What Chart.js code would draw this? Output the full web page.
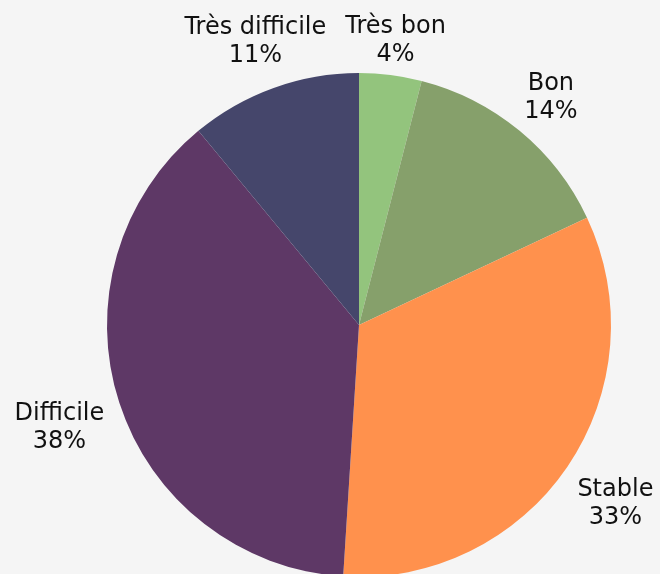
<!DOCTYPE html>
<html>
<head>
<meta charset="utf-8">
<script src="https://cdn.jsdelivr.net/npm/chart.js@4.4.1/dist/chart.umd.min.js"></script>
<style>
  html, body { margin: 0; padding: 0; background: #f5f5f5; overflow: hidden; }
  #wrap { width: 660px; height: 574px; overflow: hidden; }
  canvas { display: block; }
</style>
</head>
<body>
<div id="wrap"><canvas id="pieChart" width="660" height="650"></canvas></div>
<script>
// categories and shares (%)
const categories = ["Très bon", "Bon", "Stable", "Difficile", "Très difficile"];
const shares = [4, 14, 33, 38, 11];
const sliceColors = ["#93c47d", "#86a06b", "#ff914d", "#5e3866", "#45466b"];

const labelFont = "24px 'DejaVu Sans', sans-serif";
const lineHeight = 28;
const labelGap = 12;

// draws "Name / xx%" outside each slice, pushed out until the text box clears the pie
const outsideLabels = {
    id: "outsideLabels",
    afterDatasetsDraw(chart) {
        const ctx = chart.ctx;
        const meta = chart.getDatasetMeta(0);
        ctx.save();
        ctx.font = labelFont;
        ctx.fillStyle = "#111111";
        ctx.textAlign = "center";
        ctx.textBaseline = "middle";
        meta.data.forEach((arc, i) => {
            const p = arc.getProps(["x", "y", "startAngle", "endAngle", "outerRadius"], true);
            const mid = (p.startAngle + p.endAngle) / 2;
            const lines = [categories[i], shares[i] + "%"];
            const halfW = Math.max(...lines.map(l => ctx.measureText(l).width)) / 2;
            const halfH = 25;
            const dx = Math.cos(mid), dy = Math.sin(mid);
            let dist = p.outerRadius;
            let cx, cy;
            for (; dist < p.outerRadius + 200; dist += 1) {
                cx = p.x + dx * dist;
                cy = p.y + dy * dist;
                const nx = Math.min(Math.max(p.x, cx - halfW), cx + halfW);
                const ny = Math.min(Math.max(p.y, cy - halfH), cy + halfH);
                if (Math.hypot(nx - p.x, ny - p.y) >= p.outerRadius + labelGap) break;
            }
            cy += 5;
            ctx.fillText(lines[0], cx, cy - lineHeight / 2);
            ctx.fillText(lines[1], cx, cy + lineHeight / 2);
        });
        ctx.restore();
    }
};

new Chart(document.getElementById("pieChart"), {
    type: "pie",
    data: {
        labels: categories,
        datasets: [{
            data: shares,
            backgroundColor: sliceColors,
            borderColor: sliceColors,
            borderWidth: 0
        }]
    },
    options: {
        responsive: false,
        animation: false,
        layout: {
            padding: { left: 107, right: 49, top: 73, bottom: 73 }
        },
        plugins: {
            legend: { display: false },
            tooltip: { enabled: false }
        }
    },
    plugins: [outsideLabels]
});
</script>
</body>
</html>
